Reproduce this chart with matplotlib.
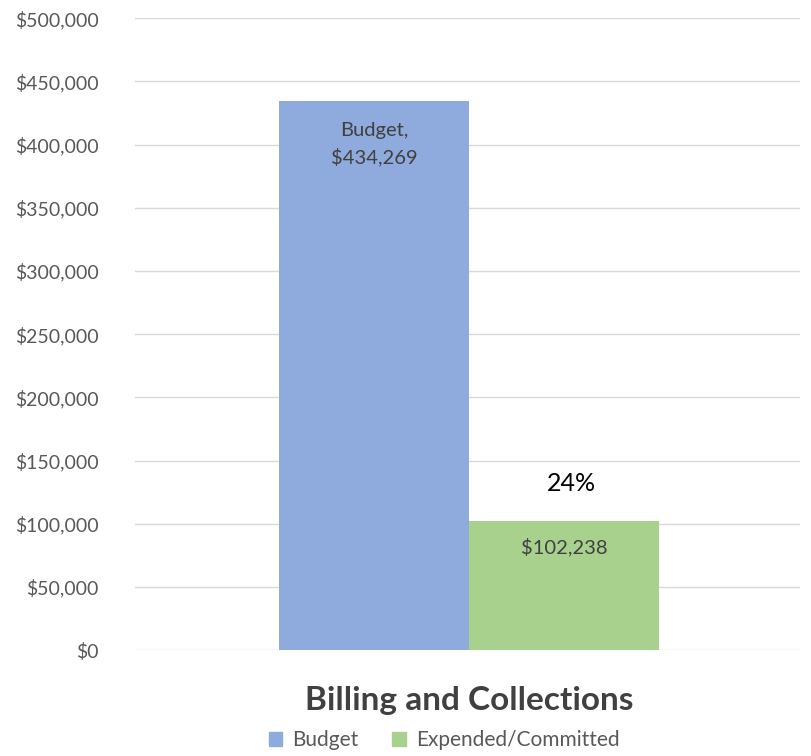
import matplotlib.pyplot as plt
from matplotlib.ticker import FuncFormatter

plt.rcParams['font.family'] = ['Lato', 'DejaVu Sans']

series = ['Budget', 'Expended/Committed']
values = [434269, 102238]
colors = ['#8FAADC', '#A9D18E']
category = 'Billing and Collections'
pct_label = '24%'

fig = plt.figure(figsize=(8.12, 7.56), dpi=100)
ax = fig.add_axes([0.166, 0.140, 0.819, 0.836])

w = 0.286
xs = [-w / 2 + 0.003, w / 2 + 0.003]
bars = ax.bar(xs, values, width=w, color=colors, label=series, zorder=3)

ax.set_xlim(-0.5, 0.5)
ax.set_ylim(0, 500000)
ax.set_yticks(range(0, 500001, 50000))
ax.yaxis.set_major_formatter(FuncFormatter(lambda v, p: f'${v:,.0f}'))
ax.grid(axis='y', color='#D9D9D9', linewidth=1, zorder=0)
for s in ax.spines.values():
    s.set_visible(False)
ax.tick_params(axis='y', length=0, pad=26, labelsize=14, labelcolor='#595959')
ax.set_xticks([])

ax.text(xs[0], values[0] - 34000, f'{series[0]},\n${values[0]:,}', ha='center', va='center',
        fontsize=14.5, color='#404040', linespacing=1.5, zorder=4)
ax.text(xs[1], values[1] - 21000, f'${values[1]:,}', ha='center', va='center',
        fontsize=14.5, color='#404040', zorder=4)
ax.text(xs[1] + 0.01, values[1] + 30000, pct_label, ha='center', va='center',
        fontsize=18, color='black', zorder=4)

fig.text(0.578, 0.074, category, ha='center', va='center', fontsize=24,
         fontweight='bold', color='#404040')

handles = [plt.Rectangle((0, 0), 1, 1, color=c) for c in colors]
fig.legend(handles, series, loc='center', bbox_to_anchor=(0.547, 0.021), ncol=2,
           frameon=False, fontsize=15, labelcolor='#595959', handlelength=0.65,
           handleheight=0.65, handletextpad=0.5, columnspacing=1.6)

plt.savefig('out.png', dpi=100)
